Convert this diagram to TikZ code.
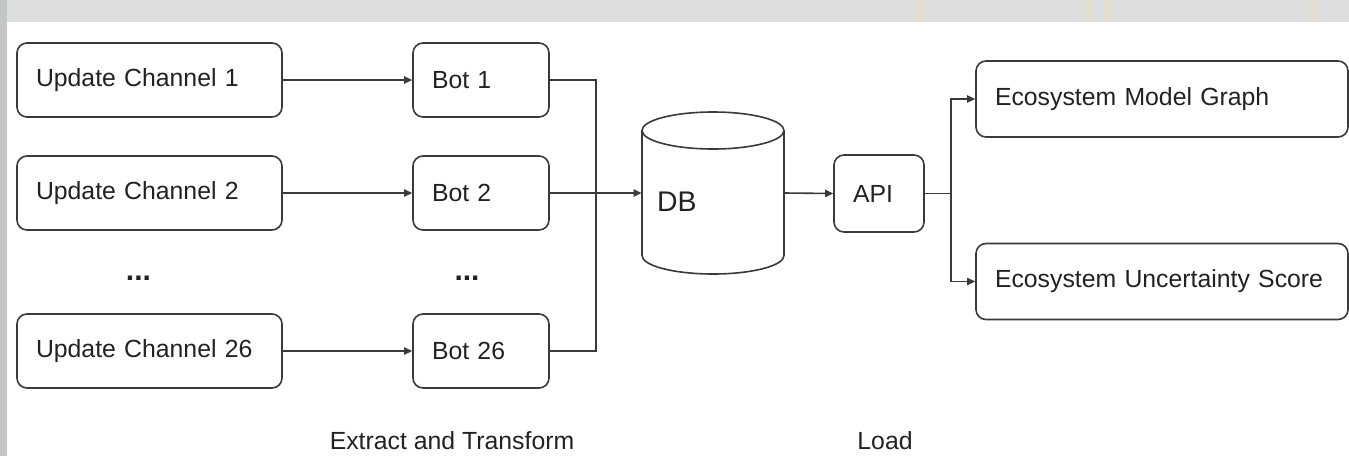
\documentclass[tikz,border=0pt]{standalone}
\usepackage{fontspec}
\setmainfont{Liberation Sans}
\usetikzlibrary{arrows.meta}
\definecolor{linegray}{HTML}{3A3A3A}
\definecolor{textgray}{HTML}{222222}
\definecolor{bandgray}{HTML}{DCDFDD}
\definecolor{edgegray}{HTML}{C2C6C4}
\definecolor{smudge}{HTML}{E4DDCE}
\tikzset{
	box/.style={draw=linegray, line width=0.8pt, rounded corners=5pt, inner xsep=9.5pt, inner ysep=0pt, text width=#1, align=left, text=textgray, font=\fontsize{12.4}{14}\selectfont},
	conn/.style={draw=linegray, line width=0.8pt},
	arr/.style={conn, -{Triangle[length=4pt,width=3.6pt]}},
	caption/.style={text=textgray, font=\fontsize{12.4}{14}\selectfont},
	dots/.style={anchor=base, text=textgray, font=\fontsize{15}{16}\selectfont\bfseries},
}
\begin{document}
\begin{tikzpicture}[x=0.5pt,y=-0.5pt]
	\useasboundingbox (0,0) rectangle (1349,456);
	\fill [white] (0,0) rectangle (1349,456);
	\fill [bandgray] (0,0) rectangle (1349,22);
	\fill [smudge] (915,0) rectangle (924,22);
	\fill [smudge] (1086,0) rectangle (1093,22);
	\fill [smudge] (1104,0) rectangle (1112,22);
	\fill [smudge] (1310,0) rectangle (1318,22);
	\fill [edgegray] (0,0) rectangle (7,456);
	% sources
	\node (ch1) [box=113.5pt, minimum height=37pt] at (149.5,80) {Update Channel 1};
	\node (ch2) [box=113.5pt, minimum height=37pt] at (149.5,193) {Update Channel 2};
	\node (ch26) [box=113.5pt, minimum height=37pt] at (149.5,351) {Update Channel 26};
	\node (chdots) [dots] at (138.5,280) {...};
	% bots
	\node (bot1) [box=49pt, minimum height=37pt] at (481,80) {Bot 1};
	\node (bot2) [box=49pt, minimum height=37pt] at (481,193) {Bot 2};
	\node (bot26) [box=49pt, minimum height=37pt] at (481,351) {Bot 26};
	\node (botdots) [dots] at (467,280) {...};
	\draw [arr] (ch1) -- (bot1);
	\draw [arr] (ch2) -- (bot2);
	\draw [arr] (ch26) -- (bot26);
	% database
	\node (db) [minimum width=71pt, minimum height=81pt, inner sep=0pt] at (713,193) {};
	\draw [conn] (642,130.5) -- (642,255.5) arc [start angle=180, end angle=360, x radius=35.5pt, y radius=9.25pt] -- (784,130.5);
	\draw [conn] (713,130.5) ellipse [x radius=35.5pt, y radius=9.25pt];
	\node (dblabel) [anchor=west, text=textgray, font=\fontsize{14.2}{16}\selectfont] at (650,202) {DB};
	\coordinate (merge) at (596,193);
	\draw [conn] (bot1.east) -| (merge);
	\draw [conn] (bot26.east) -| (merge);
	\draw [conn] (bot2.east) -- (merge);
	\draw [arr] (merge) -- (db.west);
	% load side
	\node (api) [box=26pt, minimum height=38.5pt] at (879,193.5) {API};
	\draw [arr] (db.east) -- (api.west);
	\node (graph) [box=167pt, minimum height=38pt] at (1162,99) {Ecosystem Model Graph};
	\node (score) [box=167pt, minimum height=38pt] at (1162,281.5) {Ecosystem Uncertainty Score};
	\coordinate (split) at (951,193.5);
	\draw [conn] (api.east) -- (split);
	\draw [arr] (split) |- (graph.west);
	\draw [arr] (split) |- (score.west);
	% stage captions
	\node (extract) [caption] at (452,441) {Extract and Transform};
	\node (load) [caption] at (885,441) {Load};
\end{tikzpicture}
\end{document}
